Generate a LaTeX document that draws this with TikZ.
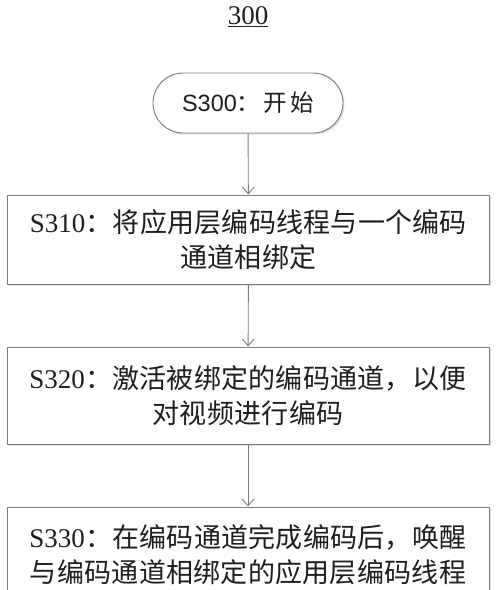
\documentclass[tikz,border=0pt]{standalone}
\usepackage{fontspec}
\setmainfont{Liberation Serif}
\newfontfamily\cjk[LetterSpace=1]{Noto Sans CJK SC}
\newfontfamily\cjkwide[LetterSpace=14]{Noto Sans CJK SC}
\newfontfamily\latsans{Liberation Sans}
\usetikzlibrary{arrows.meta,shadows}
\definecolor{linegray}{HTML}{7A7A7A}
\definecolor{txt}{HTML}{1E1E1E}
\newcommand{\zh}[1]{{\cjk #1}}
\tikzset{
  stepbox/.style={draw=linegray, line width=0.9pt, fill=white, text=txt,
    minimum width=482pt, align=center, inner sep=0pt,
    font=\fontsize{27}{35}\selectfont,
    drop shadow={shadow xshift=1.5pt, shadow yshift=-1.5pt, opacity=0.25}},
  startbox/.style={draw=linegray, line width=0.9pt, fill=white, text=txt,
    minimum width=190pt, minimum height=60pt, rounded corners=30pt, inner sep=0pt,
    font=\fontsize{23.5}{28}\selectfont,
    drop shadow={shadow xshift=1.5pt, shadow yshift=-1.5pt, opacity=0.25}},
  flow/.style={draw=linegray, line width=0.9pt, -{Straight Barb[length=7pt,width=12pt]}}
}
\begin{document}
\begin{tikzpicture}
\useasboundingbox (0,0) rectangle (500pt,-590pt);
\node[text=txt, font=\fontsize{27}{30}\selectfont, inner sep=0pt] (title) at (248pt,-17pt) {\underline{300}};
\node[startbox] (s300) at (248pt,-103pt) {\latsans S300{\cjkwide ：开始}};
\node[stepbox, minimum height=89pt] (s310) at (248.5pt,-239.5pt)
  {S310\zh{：将应用层编码线程与一个编码}\\ \zh{通道相绑定}};
\node[stepbox, minimum height=97pt] (s320) at (248pt,-395.5pt)
  {S320\zh{：激活被绑定的编码通道，以便}\\ \zh{对视频进行编码}};
\node[stepbox, minimum height=96pt] (s330) at (248pt,-555pt)
  {S330\zh{：在编码通道完成编码后，唤醒}\\ \zh{与编码通道相绑定的应用层编码线程}};
\draw[flow] (s300) -- (s310);
\draw[flow] (s310) -- (s320);
\draw[flow] (s320) -- (s330);
\end{tikzpicture}
\end{document}
